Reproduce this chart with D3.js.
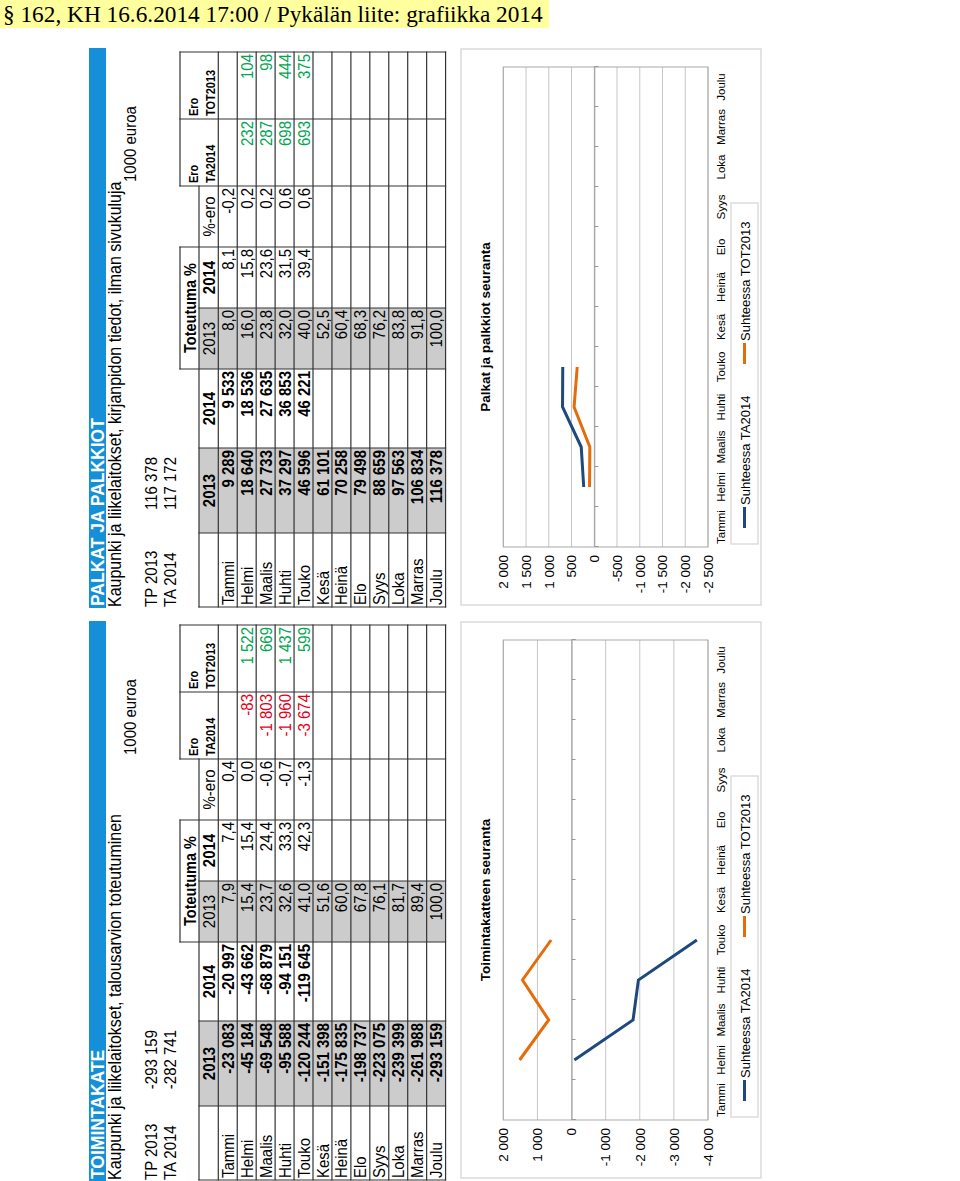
<!DOCTYPE html>
<html>
<head>
<meta charset="utf-8">
<script src="https://d3js.org/d3.v7.min.js"></script>
<style>
  body { margin: 0; background: #fff; }
  svg text { font-family: "Liberation Sans", Arial, sans-serif; }
  text.hdr { font-family: "Liberation Serif", "Times New Roman", serif; }
</style>
</head>
<body>
<svg id="page" width="960" height="1181"></svg>
<script>
// ---- data ----
const months = ["Tammi", "Helmi", "Maalis", "Huhti", "Touko", "Kesä", "Heinä", "Elo", "Syys", "Loka", "Marras", "Joulu"];

// toimintakate, 1000 euroa
const tkTP2013 = -293159;
const tkTA2014 = -282741;
const tk2013 = [-23083, -45184, -69548, -95588, -120244, -151398, -175835, -198737, -223075, -239399, -261988, -293159];
const tk2014 = [-20997, -43662, -68879, -94151, -119645];
const tkPct2013 = [7.9, 15.4, 23.7, 32.6, 41.0, 51.6, 60.0, 67.8, 76.1, 81.7, 89.4, 100.0];
const tkPct2014 = [7.4, 15.4, 24.4, 33.3, 42.3];
const tkPctDiff = [0.4, 0.0, -0.6, -0.7, -1.3];
const tkEroTA = [null, -83, -1803, -1960, -3674];
const tkEroTOT = [null, 1522, 669, 1437, 599];
const tkTicks = [2000, 1000, 0, -1000, -2000, -3000, -4000];

// palkat ja palkkiot, 1000 euroa
const pkTP2013 = 116378;
const pkTA2014 = 117172;
const pk2013 = [9289, 18640, 27733, 37297, 46596, 61101, 70258, 79498, 88659, 97563, 106834, 116378];
const pk2014 = [9533, 18536, 27635, 36853, 46221];
const pkPct2013 = [8.0, 16.0, 23.8, 32.0, 40.0, 52.5, 60.4, 68.3, 76.2, 83.8, 91.8, 100.0];
const pkPct2014 = [8.1, 15.8, 23.6, 31.5, 39.4];
const pkPctDiff = [-0.2, 0.2, 0.2, 0.6, 0.6];
const pkEroTA = [null, 232, 287, 698, 693];
const pkEroTOT = [null, 104, 98, 444, 375];
const pkTicks = [2000, 1500, 1000, 500, 0, -500, -1000, -1500, -2000, -2500];

// ---- setup ----
const W = 960, H = 1181;
const BLUE = "#1f497d", ORANGE = "#e46c0a";
const fi = d3.formatLocale({decimal: ",", thousands: "\u00a0", grouping: [3], currency: ["", ""], minus: "-"});
const fInt = fi.format(",d");
const fPct = fi.format(".1f");

const svg = d3.select("#page");

svg.append("rect").attr("x", 0).attr("y", 0).attr("width", 549).attr("height", 28).attr("fill", "#ffff9e");
svg.append("text").attr("class", "hdr").attr("x", 3).attr("y", 22).attr("font-size", 23.3)
  .text("§ 162, KH 16.6.2014 17:00 / Pykälän liite: grafiikka 2014");

// the sheet is printed landscape, turned a quarter left
const sheet = svg.append("g").attr("transform", `translate(0,${H}) rotate(-90)`);

const cols = [1, 75, 160, 239, 300, 361, 422, 489, 556];
const rowTop = 218.3, rowH = 18.94;
const tableBottom = rowTop + 12 * rowH;

// k stretches the glyphs across the sheet, the print is a bit taller than wide
function txt(g, x, y, s, o = {}) {
  const k = o.k || 1;
  return g.append("text")
    .attr("transform", `translate(${x},${y}) scale(1,${k})`)
    .attr("font-size", o.size || 15)
    .attr("font-weight", o.bold ? "bold" : null)
    .attr("text-anchor", o.anchor || "start")
    .attr("fill", o.fill || "#000")
    .text(s);
}

function drawTable(g, p) {
  const K = 1.12;
  // grey 2014 columns
  [[cols[1], cols[2]], [cols[3], cols[4]]].forEach(c => {
    g.append("rect").attr("x", c[0]).attr("y", 199).attr("width", c[1] - c[0])
      .attr("height", tableBottom - 199).attr("fill", "#cccccc");
  });

  // header
  txt(g, (cols[3] + cols[5]) / 2, 196, "Toteutuma %", {bold: true, size: 14.5, anchor: "middle", k: K});
  txt(g, (cols[1] + cols[2]) / 2, 215, "2013", {bold: true, anchor: "middle", k: K});
  txt(g, (cols[2] + cols[3]) / 2, 215, "2014", {bold: true, anchor: "middle", k: K});
  txt(g, (cols[3] + cols[4]) / 2, 215, "2013", {anchor: "middle", k: K});
  txt(g, (cols[4] + cols[5]) / 2, 215, "2014", {bold: true, anchor: "middle", k: K});
  txt(g, (cols[5] + cols[6]) / 2, 215, "%-ero", {anchor: "middle", k: K});
  txt(g, cols[6] + 3, 198, "Ero", {bold: true, size: 11, k: K});
  txt(g, cols[6] + 3, 215, "TA2014", {bold: true, size: 11, k: K});
  txt(g, cols[7] + 3, 198, "Ero", {bold: true, size: 11, k: K});
  txt(g, cols[7] + 3, 215, "TOT2013", {bold: true, size: 11, k: K});

  const ero = v => v < 0 ? "#e3001b" : "#00a651";
  months.forEach((m, i) => {
    const yb = rowTop + i * rowH + 15.5;
    txt(g, cols[0] + 2, yb, m, {k: K});
    txt(g, cols[2] - 2, yb, fInt(p.v13[i]), {bold: true, anchor: "end", k: K});
    if (p.v14[i] != null) txt(g, cols[3] - 2, yb, fInt(p.v14[i]), {bold: true, anchor: "end", k: K});
    txt(g, cols[4] - 2, yb, fPct(p.p13[i]), {anchor: "end", k: K});
    if (p.p14[i] != null) txt(g, cols[5] - 2, yb, fPct(p.p14[i]), {anchor: "end", k: K});
    if (p.pd[i] != null) txt(g, cols[6] - 2, yb, fPct(p.pd[i]), {anchor: "end", k: K});
    if (p.eTA[i] != null) txt(g, cols[7] - 2, yb, fInt(p.eTA[i]), {anchor: "end", fill: ero(p.eTA[i]), k: K});
    if (p.eTOT[i] != null) txt(g, cols[8] - 2, yb, fInt(p.eTOT[i]), {anchor: "end", fill: ero(p.eTOT[i]), k: K});
  });

  // grid lines
  const lines = [
    [cols[3], 180, cols[5], 180],
    [cols[6], 180, cols[8], 180],
    [cols[0], 199, cols[6], 199]
  ];
  for (let i = 0; i <= 12; i++) lines.push([cols[0], rowTop + i * rowH, cols[8], rowTop + i * rowH]);
  cols.forEach((c, j) => {
    const top = (j === 3 || j >= 5) ? 180 : 199;
    lines.push([c, top, c, tableBottom]);
  });
  g.append("g").selectAll("line").data(lines).join("line")
    .attr("x1", d => d[0]).attr("y1", d => d[1]).attr("x2", d => d[2]).attr("y2", d => d[3])
    .attr("stroke", "#333").attr("stroke-width", 1.2).attr("stroke-linecap", "square");
}

function drawChart(g, p) {
  const plotL = 61, plotR = 541, plotT = 503.3, plotB = 708;
  g.append("rect").attr("x", 3).attr("y", 461).attr("width", 556).attr("height", 300)
    .attr("fill", "#fff").attr("stroke", "#d4d4d4").attr("stroke-width", 1.3);

  const x = d3.scaleBand().domain(months).range([plotL, plotR]);
  const y = d3.scaleLinear().domain(d3.extent(p.ticks)).range([plotB, plotT]);

  g.append("g").selectAll("line").data(p.ticks).join("line")
    .attr("x1", plotL).attr("x2", plotR).attr("y1", d => y(d)).attr("y2", d => y(d))
    .attr("stroke", "#c6c6c6").attr("stroke-width", 1);
  g.append("rect").attr("x", plotL).attr("y", plotT).attr("width", plotR - plotL).attr("height", plotB - plotT)
    .attr("fill", "none").attr("stroke", "#a9a9a9").attr("stroke-width", 1);

  const ya = g.append("g").attr("transform", `translate(${plotL},0)`)
    .call(d3.axisLeft(y).tickValues(p.ticks).tickFormat(fInt).tickSize(0).tickPadding(8));
  ya.select(".domain").remove();
  ya.attr("font-size", 13.5).attr("font-family", "Liberation Sans, Arial, sans-serif");

  // category axis crossing at zero
  const xt = d3.scaleLinear().domain([0, 12]).range([plotL, plotR]);
  const za = g.append("g").attr("transform", `translate(0,${y(0)})`)
    .call(d3.axisBottom(xt).ticks(12).tickSize(4).tickFormat(""));
  za.selectAll("line, path").attr("stroke", "#9a9a9a");

  const xa = g.append("g").attr("transform", `translate(0,${plotB + 9})`)
    .call(d3.axisBottom(x).tickSize(0).tickPadding(0));
  xa.select(".domain").remove();
  xa.attr("font-size", 11.5).attr("font-family", "Liberation Sans, Arial, sans-serif");

  txt(g, 281, 490, p.chartTitle, {bold: true, size: 13.5, anchor: "middle"});

  const line = d3.line().x(d => x(d.m) + x.bandwidth() / 2).y(d => y(d.v));
  p.series.forEach(s => {
    const pts = months.map((m, i) => ({m, v: s.values[i]})).filter(d => d.v != null);
    g.append("path").datum(pts).attr("d", line).attr("fill", "none")
      .attr("stroke", s.color).attr("stroke-width", 3).attr("stroke-linejoin", "miter");
  });

  // legend
  g.append("rect").attr("x", 64).attr("y", 731).attr("width", 341).attr("height", 27)
    .attr("fill", "#fff").attr("stroke", "#d4d4d4").attr("stroke-width", 1.2);
  const lx = [80, 244];
  p.series.forEach((s, i) => {
    g.append("line").attr("x1", lx[i]).attr("x2", lx[i] + 21).attr("y1", 744.5).attr("y2", 744.5)
      .attr("stroke", s.color).attr("stroke-width", 3);
    txt(g, lx[i] + 23, 749.5, s.name, {size: 13});
  });
}

function drawPanel(p) {
  const g = sheet.append("g").attr("transform", `translate(${p.shift},0)`);
  g.append("rect").attr("x", 0).attr("y", 89).attr("width", 560).attr("height", 17).attr("fill", "#1590d8");
  txt(g, 2, 104, p.title, {bold: true, size: 17.5, fill: "#fff", k: 1.05});
  txt(g, 1, 121, p.sub, {size: 16, k: 1.1});
  txt(g, 426, 136, "1000 euroa", {k: 1.1});
  txt(g, 1, 157, "TP 2013", {k: 1.1});
  txt(g, 151, 157, fInt(p.tp), {anchor: "end", k: 1.1});
  txt(g, 1, 176, "TA 2014", {k: 1.1});
  txt(g, 151, 176, fInt(p.ta), {anchor: "end", k: 1.1});
  drawTable(g, p);
  drawChart(g, p);
}

drawPanel({
  shift: 0, title: "TOIMINTAKATE", sub: "Kaupunki ja liikelaitokset, talousarvion toteutuminen",
  tp: tkTP2013, ta: tkTA2014, v13: tk2013, v14: tk2014, p13: tkPct2013, p14: tkPct2014, pd: tkPctDiff,
  eTA: tkEroTA, eTOT: tkEroTOT, chartTitle: "Toimintakatteen seuranta", ticks: tkTicks,
  series: [
    {name: "Suhteessa TA2014", values: tkEroTA, color: BLUE},
    {name: "Suhteessa TOT2013", values: tkEroTOT, color: ORANGE}
  ]
});

drawPanel({
  shift: 573, title: "PALKAT JA PALKKIOT", sub: "Kaupunki ja liikelaitokset, kirjanpidon tiedot, ilman sivukuluja",
  tp: pkTP2013, ta: pkTA2014, v13: pk2013, v14: pk2014, p13: pkPct2013, p14: pkPct2014, pd: pkPctDiff,
  eTA: pkEroTA, eTOT: pkEroTOT, chartTitle: "Palkat ja palkkiot seuranta", ticks: pkTicks,
  series: [
    {name: "Suhteessa TA2014", values: pkEroTA, color: BLUE},
    {name: "Suhteessa TOT2013", values: pkEroTOT, color: ORANGE}
  ]
});
</script>
</body>
</html>
